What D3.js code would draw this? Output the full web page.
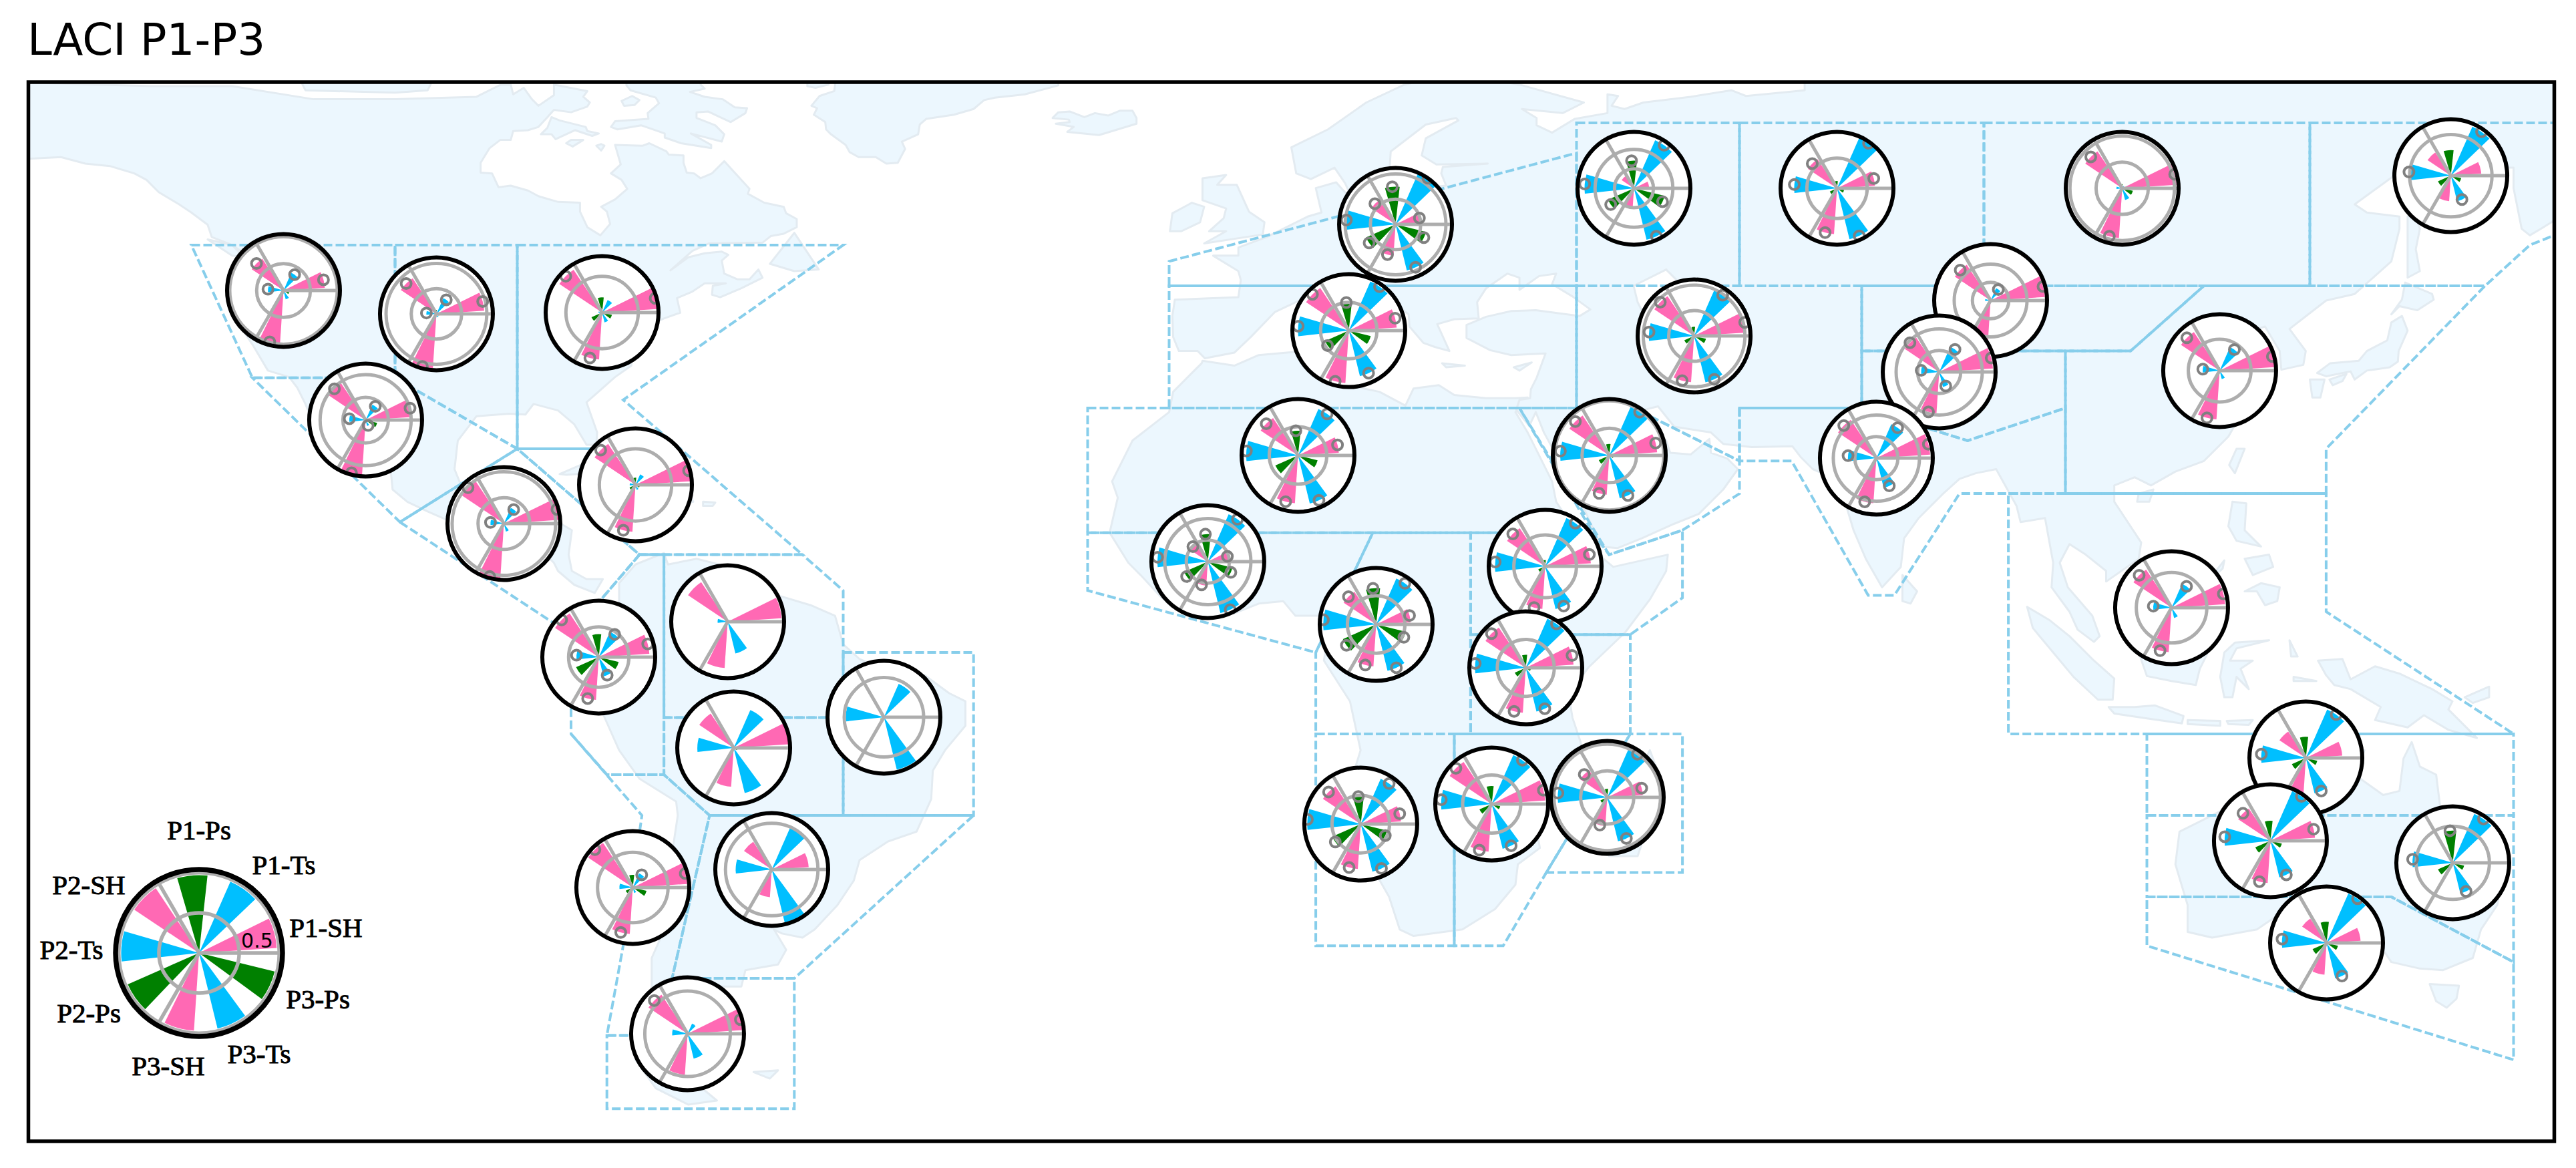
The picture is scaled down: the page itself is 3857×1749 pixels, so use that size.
<!DOCTYPE html>
<html><head><meta charset="utf-8">
<script src="https://cdn.jsdelivr.net/npm/d3@7"></script>
<style>html,body{margin:0;padding:0;background:#fff}svg{display:block}</style>
</head><body><svg id="c" width="3857" height="1749"></svg>
<script>
// ---------- data ----------
const titleText = "LACI P1-P3";
const seriesLabels = ["P1-SH","P1-Ts","P1-Ps","P2-SH","P2-Ts","P2-Ps","P3-SH","P3-Ts","P3-Ps"];
const seriesKinds  = ["SH","Ts","Ps","SH","Ts","Ps","SH","Ts","Ps"];
const regionNames = ["WNA","CNA","ENA","NCA","CAR","SCA","NWS","NSA","NES","SAM","SWS","SES","SSA",
  "WCE","EEU","WSB","ESB","RFE","MED","WCA","SAH","ARP","WAF","NEAF","ECA","TIB","SAS","EAS",
  "CAF","SEAF","WSAF","ESAF","MDG","SEA","NAU","CAU","EAU","SAU"];
const regionLon = [-118.69,-99.92,-79.59,-108.61,-75.49,-91.64,-80.0,-64.18,-45.0,-63.44,-75.82,-58.77,-69.1,
  17.79,47.05,71.97,106.97,147.3,12.05,54.43,5.82,44.02,-5.25,36.15,90.82,84.51,76.8,118.93,
  15.41,33.77,13.52,29.59,43.77,113.03,129.51,125.16,147.54,132.05];
const regionLat = [44.43,41.56,41.72,28.52,20.57,15.82,-0.57,3.77,-7.95,-11.72,-28.85,-26.64,-46.8,
  52.54,56.97,56.97,56.97,58.52,39.5,38.85,24.18,24.18,11.15,10.57,43.2,34.43,23.85,34.59,
  3.44,-1.89,-21.07,-18.61,-17.79,5.49,-12.95,-23.11,-25.82,-35.66];
// radial limit of each small polar panel
const panelMax = [1.05,1.12,.78,1.24,.78,1.09,.935,.45,.71,.45,.80,.61,.66,
  1.12,1.45,.935,1.08,.685,1.0,1.11,.98,1.035,1.31,.90,1.55,1.31,1.31,.90,
  .98,.99,.98,.97,1.06,.80,.48,.48,.77,.48];
// LACI per region, in the order of seriesLabels
const laciValues = [
 [.77,.36,.03,.71,.29,.05,.99,.17,.11],
 [.95,.34,.08,.85,.20,.05,1.08,.07,.06],
 [.76,.19,.21,.71,.05,.16,.65,.14,.14],
 [1.01,.37,.04,.97,.36,.03,1.2,.13,.26],
 [.76,.16,.10,.68,.08,.09,.65,.07,.06],
 [1.06,.33,.02,.98,.26,.03,1.06,.16,.03],
 [.84,.46,.38,.87,.37,.41,.71,.33,.34],
 [.43,.0,.02,.38,.08,.01,.37,.26,.01],
 [.01,.46,.03,.01,.48,.05,.01,.68,.0],
 [.44,.33,.01,.33,.29,.01,.31,.37,.03],
 [.77,.22,.18,.76,.19,.11,.66,.08,.20],
 [.40,.51,.01,.36,.39,.03,.30,.59,.01],
 [.64,.13,.01,.55,.18,.0,.48,.30,.0],
 [.49,1.12,.75,.58,.98,.64,.62,.94,.62],
 [.39,1.35,.71,.38,1.27,.73,.47,1.36,.81],
 [.63,.91,.12,.58,.71,.13,.76,.87,.12],
 [1.04,.05,.08,.85,.11,.05,.95,.23,.21],
 [.37,.65,.31,.34,.51,.17,.31,.32,.13],
 [.85,.95,.50,.91,.90,.46,.93,.83,.40],
 [1.03,.98,.18,.94,.89,.21,.91,.94,.24],
 [.71,.88,.43,.78,.90,.43,.83,.86,.35],
 [.88,.97,.21,.88,.90,.21,.72,.81,.08],
 [.47,1.20,.64,.49,1.17,.60,.56,1.23,.59],
 [.73,.84,.10,.73,.80,.12,.68,.70,.05],
 [1.49,.37,.05,1.18,.15,.03,1.3,.05,.03],
 [1.25,.64,.05,.96,.42,.03,.96,.36,.02],
 [1.25,.86,.03,1.07,.66,.02,1.05,.71,.02],
 [.87,.41,.05,.74,.27,.02,.78,.14,.02],
 [.60,.87,.63,.68,.92,.63,.73,.83,.53],
 [.84,.94,.23,.85,.89,.21,.79,.79,.09],
 [.70,.86,.48,.79,.93,.54,.78,.85,.47],
 [.92,.92,.31,.87,.87,.23,.82,.79,.15],
 [.67,.99,.16,.61,.93,.14,.54,.85,.05],
 [.76,.37,.03,.65,.26,.0,.63,.15,.0],
 [.31,.45,.18,.27,.38,.13,.30,.31,.10],
 [.38,.46,.17,.33,.39,.14,.36,.32,.10],
 [.04,.73,.44,.01,.55,.22,.01,.43,.16],
 [.29,.46,.18,.25,.38,.13,.27,.31,.10]
];
// indices (into seriesLabels) of the values flagged with a circle
const significant = [
 [0,1,3,4,6],[0,1,3,4,6],[0,3,6],[0,1,3,4,6,7],[0,3,6],[0,1,3,4,6],[0,1,3,4,6,7],[],[],[],[0,1,3,6],[],[0,3],
 [0,1,2,3,4,5,6,7,8],[1,2,4,5,7,8],[0,1,3,4,6,7],[0,3,6],[1,4,7],[0,1,2,3,4,5,6,7],[0,1,3,4,6,7],[0,1,2,3,4,6,7],[0,1,3,4,6,7],
 [0,1,2,3,4,5,6,7,8],[0,1,3,4,6,7],[0,1,3],[0,1,3,4,6,7],[0,1,3,4,6,7],[0,1,3,4,6],
 [0,1,2,3,4,5,6,7,8],[0,1,3,4,6,7],[0,1,2,3,4,5,6,7,8],[0,1,3,4,6,7],[0,1,3,4,6,7],[0,1,3,4,6],[1,4,7],[0,1,3,4,6,7],[1,2,4,7],[1,4,7]
];
const legendValues = [.97,.97,.97,.97,.97,.97,.97,.97,.97];
const radialTicks = [0.5,1.0];
const spokeAngles = [0,120,240];

// region outlines, lon/lat
const regionOutlines = [
 [[-130,50],[-105,50],[-105,33.7],[-122.5,33.7]],
 [[-105,50],[-90,50],[-90,25],[-105,33.7]],
 [[-90,50],[-50,50],[-77,31],[-70,25],[-90,25]],
 [[-122.5,33.7],[-105,33.7],[-90,25],[-104.4,16]],
 [[-90,25],[-70,25],[-55,12],[-75,12]],
 [[-104.4,16],[-90,25],[-75,12],[-83.4,2.2]],
 [[-75,12],[-72,12],[-72,-15],[-79,-15],[-83.4,-10],[-83.4,2.2]],
 [[-75,12],[-55,12],[-50,7.6],[-50,-8],[-72,-8],[-72,12]],
 [[-72,-8],[-50,-8],[-50,-20],[-66.4,-20],[-72,-15]],
 [[-50,0],[-34,0],[-34,-20],[-50,-20]],
 [[-66.4,-20],[-34,-20],[-56,-40],[-71,-40]],
 [[-83.4,-10],[-79,-15],[-72,-15],[-66.4,-20],[-71,-40],[-72,-47],[-79,-47],[-77,-36],[-74.7,-20]],
 [[-79,-47],[-72,-47],[-71,-40],[-56,-40],[-56,-56],[-79,-56]],
 [[-10,45],[-10,48],[40,61.3],[40,45]],
 [[-10,30],[-10,45],[40,45],[40,30]],
 [[-20,30],[33,30],[42,14.7],[-20,14.7]],
 [[-20,14.7],[15,14.7],[8,0],[-20,7.6]],
 [[15,14.7],[27,14.7],[27,-10],[8,-10],[8,0]],
 [[27,14.7],[42,14.7],[44,12],[53,15],[53,6.7],[46.6,2.2],[27,2.2]],
 [[27,2.2],[46.6,2.2],[46.6,-10],[27,-10]],
 [[8,-10],[25,-10],[25,-36],[8,-36]],
 [[25,-10],[46.6,-10],[36.3,-27],[31,-36],[25,-36]],
 [[36.3,-27],[46.6,-10],[53,-10],[53,-27]],
 [[33,30],[47,30],[60,23.5],[60,19.5],[53,15],[44,12]],
 [[40,45],[75,45],[75,30],[60,30],[60,23.5],[47,30],[40,30]],
 [[60,30],[75,30],[88,26],[100,30],[100,19.5],[87,19.5],[79,7],[75.8,7],[66.4,23.5],[60,23.5]],
 [[40,65],[60,65],[60,45],[40,45]],
 [[60,65],[90,65],[90,45],[60,45]],
 [[90,65],[130,65],[130,45],[90,45]],
 [[130,65],[160,65],[160,51.2],[157,50],[151.5,45],[130,45]],
 [[75,45],[117,45],[108,37],[75,37]],
 [[75,37],[100,37],[100,30],[88,26],[75,30]],
 [[100,37],[108,37],[117,45],[151.5,45],[132,25],[132,19.5],[100,19.5]],
 [[93,19.5],[132,19.5],[132,5],[155,-10],[93,-10]],
 [[110,-10],[155,-10],[155,-20],[110,-20]],
 [[110,-20],[155,-20],[155,-38],[140,-30],[110,-30]],
 [[110,-30],[140,-30],[155,-38],[155,-50],[110,-36]]
];

// simplified coastlines, lon/lat
const northAmerica = [[-152,60.5],[-148,60.7],[-146,60.8],[-143,60],[-140,59.7],[-137,58.8],[-135.5,58],[-134,56.5],[-131.5,55],[-130,54],[-128,52.5],[-127.5,51],[-125,50],[-123.5,49],[-124.5,48.3],[-124,46.5],[-124.2,43],[-124.3,40.5],[-122.5,37.8],[-120.6,34.6],[-118,33.8],[-117,32.5],[-116,30.5],[-115,28],[-113,26.5],[-111.5,24.5],[-109.9,23],[-110.5,24.5],[-112,26.5],[-113.5,29],[-114.8,31.7],[-113,31.2],[-111,29],[-109.5,26.5],[-107.5,24.5],[-105.5,22],[-105.3,20],[-103.5,18.5],[-101,17.3],[-98,16],[-95,16],[-92.5,14.5],[-90,13.5],[-87.5,13],[-85.5,11],[-85,10],[-83,8.3],[-80.5,7.3],[-79.5,9],[-81.5,9],[-83.3,10],[-83.7,12],[-83.3,15],[-85,16],[-88.5,15.8],[-88,18.5],[-87.5,21],[-90,21.2],[-91,19],[-94.5,18.2],[-96.5,19.5],[-97.7,22.5],[-97.3,26],[-95,29],[-91,29.3],[-89,29.2],[-88,30.5],[-85,29.7],[-83,28],[-81.5,25.5],[-80.3,25.5],[-80.2,27],[-81.5,30.7],[-78,33.8],[-76,35.2],[-76,37],[-74.2,40],[-72,41],[-70,41.7],[-70.4,43.5],[-68.5,44.3],[-67,45.3],[-64.4,45.3],[-66,45],[-66.1,43.9],[-65.1,43.6],[-62.5,44.7],[-59.9,46],[-60.4,47],[-61.5,45.8],[-63,45.8],[-64.6,46.5],[-64.9,48.1],[-64.1,48.8],[-64.9,49.2],[-67,49],[-69,48.5],[-71.2,46.9],[-68.5,49.3],[-66.5,50.2],[-59.9,50.3],[-58.9,51.1],[-57.3,51.4],[-55.7,52.2],[-55.7,53.2],[-57,53.9],[-57.3,54.7],[-59.7,55.2],[-61.7,56.3],[-61.5,56.9],[-64.6,60.3],[-66.1,58.8],[-67.5,58.2],[-68.3,58.8],[-69.2,58.9],[-69.6,60.1],[-69.6,61],[-71.4,61.1],[-71.7,61.5],[-73.8,62.5],[-74.6,62.2],[-78,62.3],[-77.3,59.9],[-78.5,58.8],[-77.2,58],[-76.5,56.9],[-78,55.6],[-79.7,54.7],[-79,54.1],[-78.6,52.6],[-79.8,51.2],[-81.4,52.2],[-82.3,54.1],[-82.3,55.2],[-85,55.3],[-87.4,56],[-88.7,56.7],[-90.8,57.3],[-92.3,57.1],[-93.1,58.8],[-94.5,58.9],[-94.5,60.1],[-93.4,61.9],[-92.1,62.9],[-90.8,62.9],[-90.5,64],[-88.7,64.1],[-87.4,64.5],[-86.3,65.7],[-85.5,66.6],[-83.4,66.3],[-81.4,67],[-81.1,67.5],[-81.9,68.2],[-81.4,68.9],[-85.5,69.7],[-85.5,68.4],[-87.4,67.1],[-88.2,67.9],[-89.2,69.3],[-90.5,68.5],[-90.8,69.7],[-92,69.7],[-95,68.2],[-105,67.9],[-115,67.9],[-125,69.5],[-135,69.5],[-152,70]];
const southAmerica = [[-77.5,8.5],[-75.5,10.8],[-72,12.2],[-71.5,10.8],[-68,11.5],[-64,10.5],[-61.5,10],[-58,7],[-54,5.8],[-51,4.5],[-50,1],[-48,-0.8],[-44,-2.5],[-40,-2.8],[-37,-5],[-35,-6],[-35,-9],[-37.5,-12],[-39,-14.5],[-39.2,-18],[-41,-22],[-44.5,-23.2],[-48,-25.5],[-48.7,-28],[-50.7,-31],[-53.5,-34],[-55,-35],[-57.5,-34.5],[-58.5,-34],[-57,-36.5],[-58,-38.3],[-62,-39],[-62.5,-41],[-65,-41],[-63.8,-42.5],[-65.3,-45],[-67.5,-46],[-66,-48],[-69,-51],[-68.5,-52.5],[-65.5,-55],[-69,-55.5],[-73,-53.5],[-75.5,-50],[-75.5,-46],[-73.5,-42.5],[-73.5,-37.5],[-71.5,-33],[-71.5,-28],[-70.3,-20],[-70.5,-18.3],[-75,-15.5],[-77.5,-12],[-79.5,-7.5],[-81.2,-6],[-81.2,-4.2],[-80,-2.5],[-81,-1],[-80,1],[-78.8,2],[-77.5,4],[-77.5,7]];
const africa = [[-5.9,35.8],[-2,35.2],[1,36.5],[10,37.3],[11,36.8],[10.3,34],[11,33],[15.8,32],[19,30.3],[20,32.4],[23.1,32.8],[25,31.6],[28.9,31.2],[32.5,31.2],[34,31.3],[32.5,29.5],[34,27],[35.5,24],[37,21],[37.5,18.5],[39.5,15.5],[43,12],[43.3,11.5],[44.5,10.5],[51.2,12],[51,10],[49,6.5],[46,2.5],[41.5,-1.8],[39,-5],[39.5,-8],[40.5,-11],[40.7,-15],[36.5,-18],[34.8,-20],[35.5,-24],[32.8,-26],[32.5,-28.5],[30,-31.5],[26,-34],[20,-34.8],[18.3,-34],[17,-30],[15,-26.5],[14.5,-22.5],[11.8,-17.5],[13.5,-12],[12.2,-6],[9,-1],[9.7,3.7],[8.5,4.5],[5.5,4.5],[4,6.3],[1,6],[-2,4.8],[-4.5,5.2],[-7.5,4.4],[-11,6.8],[-13.5,9.5],[-15,11],[-17.3,14.7],[-16.3,19],[-17,21],[-14.5,26],[-10,29.5],[-9.5,32],[-6,35.5]];
const eurasia = [[-5.6,36.1],[-2,36.8],[0,38.7],[3,41.8],[6,43.2],[8.5,44.3],[10.5,43],[12.5,41.5],[15.8,40],[16,38],[17,39],[18.5,40.2],[16,41.8],[13.5,43.5],[12.4,45],[13.7,45.5],[15,44.5],[17.5,43],[19.4,41.5],[19.5,40],[21.2,38],[22.6,37.5],[24.4,37],[22.9,40.3],[25,40.9],[28,41],[27.8,43],[28.9,44.7],[31.5,46.5],[33,46],[33,44.5],[35.4,46.2],[37.5,46.5],[37,45.2],[39.5,43.7],[41.7,42.1],[40.4,41.3],[35,42],[32,41.9],[28.9,41.2],[26.5,40.2],[26.5,38.6],[29.4,37.1],[32,36.5],[36.2,36.7],[35.1,33.7],[34.4,32.3],[34.3,31.2],[33,31],[32.6,29.8],[34.2,27.8],[35,29.5],[36,27],[39,21.5],[41,17.5],[43,13],[45,12.8],[48,14],[52,15.8],[55,17],[58,20],[59.8,22.5],[58.5,23.8],[56.5,24.5],[56.3,26.2],[54,24.3],[51.5,24.5],[51,26],[50,26.7],[48,29.7],[50,30.2],[52,27.7],[56.5,27],[58,25.6],[61.5,25.2],[66.5,25.3],[67.5,24],[69,22.5],[72.5,21],[72.8,19],[74,15],[75.5,11.5],[77.5,8],[79.8,10.5],[80.2,14],[82,16.5],[85,19.5],[87,21.3],[89,22],[91.5,22.5],[94,18],[94.5,16],[97.5,16.5],[98.5,11],[98.3,8],[100.5,5],[101.5,2.8],[103.5,1.3],[104.2,2],[103.3,4.5],[100.3,8],[99.3,11],[100.5,13.3],[102.5,12],[105,10],[105,8.7],[109,11.5],[109.3,13.5],[106,18.5],[106,20.5],[108.5,21.5],[110.5,20.5],[113.5,22.2],[117,23.5],[120,26.5],[122,30],[120.8,32.5],[119.3,35],[122.5,37],[119.5,37.5],[118,39],[121.5,40.5],[121,39],[124.5,40],[126.3,37],[126.5,34.7],[129.2,35.3],[129.5,37],[127.5,39.7],[129.8,41.5],[132,43.2],[135.5,44],[140,48],[141,52],[141,53.5],[137,54],[135.5,55],[141,59],[148,59.5],[155,59.5],[155,57],[156,52],[157,51.2],[160,53],[162,55],[163,58],[170,60],[180,63],[180,71],[68,71],[68,69],[60.8,68.3],[59,69],[54,68.2],[48.2,67.5],[45.9,66.7],[44.3,67.1],[45.1,68.3],[43.8,68.5],[43.8,66.2],[39.8,65.5],[37,63.8],[35.1,64.7],[35.1,65.6],[33.3,66.7],[38.3,66.2],[40.9,67.5],[33,69.7],[25,71],[18.9,69.7],[14.2,67.5],[9.5,64.2],[5,62],[5.6,58.8],[7.4,58.1],[10.3,59.5],[11.6,57.6],[12.6,55.4],[14.2,55.4],[16,56.2],[17,58.5],[17.2,61.5],[21.5,64.8],[25.2,65.6],[25.5,65.3],[21.5,63.1],[21,61],[22.8,59.9],[29.1,60],[23.6,59.6],[23.4,58.8],[24,57.3],[21,57],[19,54.5],[14,54],[11,54],[12,56],[10.5,57.7],[8,57],[8.7,54],[7,53.5],[4,52],[2,51],[-1.5,49.7],[-1.5,48.7],[-4.6,48.7],[-1.5,46.8],[-1.2,45.7],[-1.5,43.6],[-9.3,43.3],[-9.6,41.3],[-9.5,38.7],[-8.8,37],[-6.5,37]];
const australia = [[114,-22],[113.5,-26],[115,-31],[115,-34.3],[118,-35],[123.5,-34],[126,-32.3],[131,-31.5],[134,-32.7],[136,-35],[138,-35],[140,-38],[143.5,-38.8],[146.3,-39],[150,-37.5],[151,-34],[153,-31],[153.5,-28],[153,-25],[149,-21],[146,-19],[145.5,-15],[143.5,-14],[142.5,-11],[141.5,-13],[141,-17],[139,-17.5],[135.5,-15],[136.7,-12],[132.5,-11.3],[130,-12.5],[129,-15],[125,-14],[122,-18],[117,-20.5]];
const islands = [
 [[-51,69.6],[-51.1,68.9],[-52.9,68.3],[-53.9,67.1],[-53.2,66.8],[-53.6,66],[-52.2,65.1],[-52.1,64.2],[-51.5,63.6],[-49.7,62.3],[-49.2,61.4],[-48.1,60.8],[-46,60.8],[-44.7,60],[-43.3,60.1],[-42.4,61.8],[-42.8,62.7],[-40.8,63.6],[-40.6,64.8],[-39.8,65.5],[-36.4,66],[-34,66.7],[-32.7,67.8],[-31.4,68.1],[-27.7,68.5],[-23.6,69.6],[-23.6,71],[-51,71]],
 [[-54.4,69.5],[-53.4,69.3],[-51.8,69.7],[-51.8,71],[-54.4,71]],
 [[-76.6,69.6],[-76.1,69],[-73,68.1],[-72.6,67.4],[-74,66.2],[-73.9,65.5],[-78,65.2],[-78.5,64.5],[-77.7,64.2],[-74.8,64.7],[-71.9,63.7],[-71.9,63.2],[-69.9,62.5],[-66.2,61.9],[-66.2,62.3],[-68.7,63.7],[-64.9,62.7],[-64.6,63.6],[-65.7,64.7],[-68,65.6],[-68,66.3],[-66.6,66.4],[-63.8,65.1],[-62,66.2],[-61.8,66.8],[-63.3,66.9],[-64.8,67.9],[-67,68.2],[-68.8,68.8],[-67,69.2],[-67.5,69.7],[-67.5,71],[-76.6,71]],
 [[-85.8,65.7],[-84.8,65.3],[-81.6,64.5],[-81.4,64],[-80,63.7],[-80.8,63.4],[-82.9,64.1],[-85.3,63],[-85.8,63.6],[-87.1,63.6],[-86.3,64.4]],
 [[-84,62.5],[-83.4,62.9],[-81.9,62.9],[-83.2,62.1]],
 [[-80.3,62.2],[-79.7,62.4],[-79.3,62.2],[-79.7,61.6]],
 [[-77.2,67.7],[-75.9,68.3],[-75,67.8],[-75.6,67.2],[-76.9,67.1]],
 [[-117,71],[-116,69],[-105,68.7],[-101,69],[-100,71]],
 [[-128,50.7],[-125,50],[-123.5,48.5],[-125,48.7]],
 [[-59,47.7],[-56,51.5],[-53,47],[-56,46.8]],
 [[-84.8,21.9],[-82,23.1],[-79,22.5],[-75,20.8],[-74.2,20.2],[-77.5,19.9],[-78,20.7],[-81,22],[-84,21.8]],
 [[-74.4,18.5],[-73,19.9],[-69,19.7],[-68.4,18.5],[-71,18],[-74.4,18.2]],
 [[-78.3,18.4],[-76.3,18.2],[-77,17.8]],
 [[-67.2,18.5],[-65.7,18.4],[-66,18],[-67.2,18]],
 [[-61,-51.5],[-58,-51.3],[-59,-52.3]],
 [[49,-12],[50.5,-16],[47.5,-25],[44,-25],[43.5,-21],[44.5,-16],[47.5,-15]],
 [[-5.7,50.2],[1.5,51.3],[1.7,52.8],[-0.2,54.1],[-1.7,57.4],[-4.1,57.4],[-3,58.6],[-5.9,58.2],[-5.9,55.5],[-3,54.5],[-3.3,53.3],[-5.1,51.7],[-3,51.7]],
 [[-9.6,53.9],[-7.2,55.2],[-5.7,54.7],[-6.2,52.8],[-8.5,51.7],[-9.9,51.7]],
 [[-24.3,65.6],[-23.6,66.3],[-22.2,66.4],[-20.4,65.7],[-19.1,66.2],[-17.5,65.9],[-16,66.5],[-14.5,66.5],[-14,65.6],[-14,64.9],[-18.6,63.5],[-22.5,63.9],[-21.7,64.5],[-23.9,64.9],[-22.2,65.1],[-22.3,65.4]],
 [[12.5,38],[15.6,38.2],[15,36.7]],
 [[8.2,41],[9.7,41],[9.5,39],[8.5,39]],
 [[8.7,42.8],[9.5,43],[9.4,41.5],[8.8,41.5]],
 [[23.5,35.5],[26.3,35.2],[24,35]],
 [[32.3,35],[34.5,35.6],[33,34.6]],
 [[80,9.5],[81.8,7.5],[81,6],[80,6.3]],
 [[121,25],[122,25],[120.8,22],[120.1,23]],
 [[109,19.5],[110.8,20],[110.3,18.5],[108.8,18.5]],
 [[130.9,34.3],[132.5,35.5],[136,35.8],[137,37],[139.5,38.3],[140,40.5],[141.3,41.3],[142,39.5],[140.9,37],[140.8,35.7],[139.8,35],[137,34.6],[135.5,33.5],[135,34.5],[132,33.9]],
 [[130,33.5],[131.8,33.5],[131.3,31.3],[130.3,31.3]],
 [[132.4,33.5],[134.5,34.2],[134,33.3],[132.8,32.8]],
 [[140,41.5],[141.3,43.3],[141.7,45.4],[145,44],[145.2,43.3],[143.2,42],[141,42.5]],
 [[142,46],[143.5,46.8],[143,49.5],[143.5,52],[142.8,54.3],[142,53.5],[142,49]],
 [[120.5,18.5],[122.2,18.3],[122,15],[124,13],[121,13.7],[120,15.5]],
 [[122,7.5],[124,8.5],[126.3,8],[126,6.3],[124.5,5.8],[123.5,7.5]],
 [[122,11.5],[125,12],[125.5,10.5],[123,9.5]],
 [[117.3,8.5],[119.5,11.3],[119.3,10.3]],
 [[109,1.5],[111,1.8],[113,3.2],[115,5],[117,7],[119,5],[117.8,3],[118,1],[116.5,-2],[116,-4],[113,-3.5],[110,-2.9],[109,0]],
 [[95.3,5.6],[98,4],[100.5,2],[103.5,-1],[106,-3.2],[105.8,-5.8],[104,-5.8],[101,-3],[98.5,0],[96,3]],
 [[105.3,-6.7],[108.5,-6.7],[111,-6.5],[114.5,-7.8],[114.3,-8.7],[110,-8.1],[106,-7.5]],
 [[119.5,0],[120.8,1.2],[125,1.5],[121,0.5],[120.2,-1],[123,-1],[121.5,-2],[122.5,-4.5],[121,-3],[120.5,-5.5],[119.5,-5.5],[119,-3]],
 [[115,-8.3],[119,-8.4],[119,-9],[115,-8.8]],
 [[119.8,-8.4],[123,-8.3],[122.5,-8.9],[120,-8.8]],
 [[123.5,-10.3],[127,-8.4],[125,-10]],
 [[127.5,1.5],[128.5,-0.5],[127.7,-0.5]],
 [[128,-3],[130.8,-3.5],[128,-3.5]],
 [[131,-1],[134,-0.8],[135,-3.3],[138,-1.7],[141,-2.6],[145,-4.5],[147.5,-6],[147,-7],[150.5,-10.5],[147,-9.5],[144,-7.7],[142,-9.2],[138,-8.3],[138.7,-6.7],[135,-4.5],[133,-4],[132,-2.8]],
 [[149,-5.5],[152,-4.2],[152,-5.5],[150,-6.2]],
 [[144.7,-40.7],[148.3,-40.9],[148,-42.5],[146.8,-43.6],[145.5,-42.8]]
];
const continents = [northAmerica, southAmerica, africa, eurasia, australia];
const caspian = [[47,45],[51,47],[53,45],[51,44],[53,41],[54,37],[50,37.3],[49,40],[47.5,43]];

// ---------- drawing ----------
const frame = {x:42.5, y:123, w:3782, h:1586};
const degPx = frame.w/310;
const projection = d3.geoEquirectangular()
  .scale(degPx*180/Math.PI)
  .translate([frame.x+150*degPx, frame.y+70*degPx]);
const colour = d3.scaleOrdinal(["SH","Ts","Ps"],["#ff69b4","#00bfff","#008000"]);
const svg = d3.select("#c");
const defs = svg.append("defs");
defs.append("clipPath").attr("id","frameClip").append("rect")
  .attr("x",frame.x).attr("y",frame.y).attr("width",frame.w).attr("height",frame.h);
const outline = d3.line(d=>projection(d)[0], d=>projection(d)[1]).curve(d3.curveLinearClosed);

svg.append("text").attr("x",41).attr("y",82)
  .attr("font-family","DejaVu Sans").attr("font-size",66).text(titleText);

const map = svg.append("g").attr("clip-path","url(#frameClip)");
map.selectAll("path.land").data(continents.concat(islands)).join("path").attr("class","land")
  .attr("d",outline).attr("fill","#ecf7fe").attr("stroke","#e3ebf1").attr("stroke-width",3).attr("stroke-linejoin","round");
map.append("path").attr("d",outline(caspian)).attr("fill","#fff").attr("stroke","#e3ebf1").attr("stroke-width",3);
map.selectAll("path.region").data(regionOutlines).join("path").attr("class","region")
  .attr("d",outline).attr("fill","none").attr("stroke","#87ceeb").attr("stroke-width",4)
  .attr("stroke-dasharray","13 5");

const rad = a => a*Math.PI/180;
const barAngle = d3.scaleLinear([0,9],[15,375]);
const barWidth = 22.5;
function polar(cx, cy, R, rMax, values, sig, id, ringW, borderW, markerR){
  const g = svg.append("g").attr("transform",`translate(${cx},${cy})`);
  const r = d3.scaleLinear([0,rMax],[0,R]);
  const clip = "pc"+id;
  defs.append("clipPath").attr("id",clip).append("circle").attr("r",R);
  g.append("circle").attr("r",R).attr("fill","#fff");
  const inner = g.append("g").attr("clip-path",`url(#${clip})`);
  const arc = d3.arc().innerRadius(0)
    .startAngle((d,i)=>rad(90-barAngle(i)-barWidth/2))
    .endAngle((d,i)=>rad(90-barAngle(i)+barWidth/2))
    .outerRadius(d=>r(d));
  inner.selectAll("path.bar").data(values).join("path").attr("class","bar")
    .attr("d",(d,i)=>arc(d,i)).attr("fill",(d,i)=>colour(seriesKinds[i]));
  inner.selectAll("circle.ring").data(radialTicks.filter(t=>t<=rMax*1.03)).join("circle").attr("class","ring")
    .attr("r",d=>r(d)).attr("fill","none").attr("stroke","#adadad").attr("stroke-width",ringW);
  inner.selectAll("line.spoke").data(spokeAngles).join("line").attr("class","spoke")
    .attr("x2",d=>R*Math.cos(rad(d))).attr("y2",d=>-R*Math.sin(rad(d)))
    .attr("stroke","#adadad").attr("stroke-width",ringW);
  inner.selectAll("circle.sig").data(sig).join("circle").attr("class","sig")
    .attr("cx",i=>r(values[i])*Math.cos(rad(barAngle(i))))
    .attr("cy",i=>-r(values[i])*Math.sin(rad(barAngle(i))))
    .attr("r",markerR).attr("fill","none").attr("stroke","#808080").attr("stroke-width",4);
  g.append("circle").attr("r",R).attr("fill","none").attr("stroke","#000").attr("stroke-width",borderW);
  return {g,r};
}

regionNames.forEach((name,i)=>{
  const [x,y] = projection([regionLon[i],regionLat[i]]);
  polar(x,y,84.5,panelMax[i],laciValues[i],significant[i],name,5,6,7.5);
});

// key panel
const keyX = 298, keyY = 1427, keyR = 125;
const key = polar(keyX,keyY,keyR,1.04,legendValues,[],"key",5.5,7.5,0);
key.g.append("text").attr("x",key.r(0.5)+3).attr("y",-8)
  .attr("font-family","DejaVu Sans").attr("font-size",30).text("0.5");
const keyLabelAnchors = [[190,-38],[127,-132],[0,-184],[-165,-102],[-191,-5],[-165,90],[-46,169],[90,151],[178,69]];
svg.append("g").selectAll("text").data(seriesLabels).join("text")
  .attr("x",(d,i)=>keyX+keyLabelAnchors[i][0]).attr("y",(d,i)=>keyY+keyLabelAnchors[i][1])
  .attr("text-anchor","middle").attr("dominant-baseline","central")
  .attr("font-family","Liberation Serif").attr("font-size",41)
  .attr("stroke","#000").attr("stroke-width",1).text(d=>d);

svg.append("rect").attr("x",frame.x).attr("y",frame.y).attr("width",frame.w).attr("height",frame.h)
  .attr("fill","none").attr("stroke","#000").attr("stroke-width",5.5);
</script></body></html>
